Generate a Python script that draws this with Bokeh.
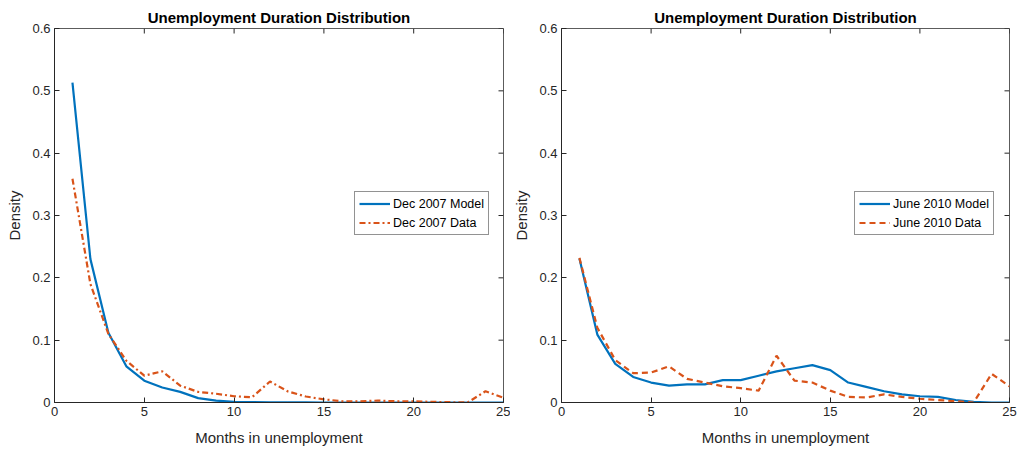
from bokeh.plotting import figure
from bokeh.layouts import row
from bokeh.models import Range1d, FixedTicker, Legend, LegendItem
from bokeh.embed import file_html
from bokeh.resources import INLINE

months = list(range(1, 26))

dec2007_model = [0.513, 0.230, 0.112, 0.058, 0.035, 0.024, 0.017, 0.007, 0.003, 0.001,
                 0.0005, 0.0003, 0.0002, 0.0001, 0.0, 0.0, 0.0, 0.0, 0.0, 0.0,
                 0.0, 0.0, 0.0, 0.0, 0.0]
dec2007_data = [0.359, 0.190, 0.110, 0.067, 0.043, 0.050, 0.027, 0.017, 0.014, 0.010,
                0.0085, 0.0337, 0.0177, 0.0096, 0.005, 0.002, 0.002, 0.003, 0.002, 0.002,
                0.001, 0.0005, 0.0, 0.018, 0.0075]

jun2010_model = [0.231, 0.109, 0.062, 0.041, 0.032, 0.027, 0.029, 0.029, 0.036, 0.036,
                 0.043, 0.050, 0.055, 0.060, 0.052, 0.032, 0.025, 0.018, 0.013, 0.010,
                 0.009, 0.004, 0.001, 0.0, 0.0]
jun2010_data = [0.232, 0.120, 0.068, 0.047, 0.048, 0.058, 0.038, 0.032, 0.026, 0.023,
                0.019, 0.075, 0.035, 0.032, 0.019, 0.009, 0.008, 0.013, 0.009, 0.006,
                0.004, 0.002, 0.0, 0.046, 0.026]

x_ticks = [0, 5, 10, 15, 20, 25]
y_ticks = [0, 0.1, 0.2, 0.3, 0.4, 0.5, 0.6]
y_tick_labels = ["0", "0.1", "0.2", "0.3", "0.4", "0.5", "0.6"]

BLUE = "#0072BD"
ORANGE = "#D95319"
AXC = "#262626"
FONT = "Liberation Sans"

X_MIN, X_MAX = x_ticks[0], x_ticks[-1]
Y_MIN, Y_MAX = y_ticks[0], y_ticks[-1]


def make_panel(model, data, lab_model, lab_data, data_dash, left_border, right_border, leg_x):
    W, H = 510, 452
    top_b, bot_b = 28, 50
    p = figure(width=W, height=H, output_backend="svg", toolbar_location=None,
               x_range=Range1d(X_MIN, X_MAX), y_range=Range1d(Y_MIN, Y_MAX),
               min_border_left=left_border, min_border_right=right_border,
               min_border_top=top_b, min_border_bottom=bot_b,
               title="Unemployment Duration Distribution")
    p.title.align = "center"
    p.title.text_font = FONT
    p.title.text_font_size = "15px"
    p.title.text_font_style = "bold"
    p.title.text_color = "#000000"
    p.title.offset = 0
    p.title.standoff = 5
    p.grid.visible = False
    p.outline_line_color = AXC
    p.outline_line_alpha = 0.75
    p.background_fill_color = "white"
    p.border_fill_color = "white"

    p.xaxis.ticker = FixedTicker(ticks=x_ticks)
    p.yaxis.ticker = FixedTicker(ticks=y_ticks)
    p.yaxis.major_label_overrides = dict(zip(y_ticks, y_tick_labels))
    p.xaxis.axis_label = "Months in unemployment"
    p.yaxis.axis_label = "Density"
    for ax in (p.xaxis[0], p.yaxis[0]):
        ax.major_tick_in = 5
        ax.major_tick_out = 0
        ax.minor_tick_in = 0
        ax.minor_tick_out = 0
        ax.axis_line_color = AXC
        ax.major_tick_line_color = AXC
        ax.major_label_text_font = FONT
        ax.major_label_text_font_size = "13px"
        ax.major_label_text_color = AXC
        ax.axis_label_text_font = FONT
        ax.axis_label_text_font_size = "15px"
        ax.axis_label_text_font_style = "normal"
        ax.axis_label_text_color = AXC
    p.xaxis.major_label_standoff = 4
    p.xaxis.axis_label_standoff = 10
    p.yaxis.major_label_standoff = 4
    p.yaxis.axis_label_standoff = 6

    # inward ticks on the top and right edges of the box
    frame_w = W - left_border - right_border
    frame_h = H - top_b - bot_b
    dy = (Y_MAX - Y_MIN) * 5.0 / frame_h
    dx = (X_MAX - X_MIN) * 5.0 / frame_w
    p.segment(x0=x_ticks, x1=x_ticks, y0=[Y_MAX] * len(x_ticks), y1=[Y_MAX - dy] * len(x_ticks),
              line_color=AXC, line_width=1)
    p.segment(x0=[X_MAX] * len(y_ticks), x1=[X_MAX - dx] * len(y_ticks), y0=y_ticks, y1=y_ticks,
              line_color=AXC, line_width=1)

    r1 = p.line(months, model, line_color=BLUE, line_width=2.2)
    r2 = p.line(months, data, line_color=ORANGE, line_width=2.2, line_dash=data_dash)

    leg = Legend(items=[LegendItem(label=lab_model, renderers=[r1]),
                        LegendItem(label=lab_data, renderers=[r2])],
                 location=(leg_x, 167))
    leg.label_text_font = FONT
    leg.label_text_font_size = "12.5px"
    leg.label_text_color = "#000000"
    leg.border_line_color = AXC
    leg.border_line_width = 1
    leg.glyph_width = 31
    leg.glyph_height = 15
    leg.label_height = 15
    leg.label_standoff = 3
    leg.padding = 4
    leg.spacing = 4
    leg.margin = 0
    p.add_layout(leg, "center")
    return p


p1 = make_panel(dec2007_model, dec2007_data, "Dec 2007 Model", "Dec 2007 Data",
                "6 3 2 3", 54, 7, 300)
p2 = make_panel(jun2010_model, jun2010_data, "June 2010 Model", "June 2010 Data",
                "6 4", 51, 11, 293)

p = row(p1, p2)
open("out.html", "w").write(file_html(p, INLINE))
